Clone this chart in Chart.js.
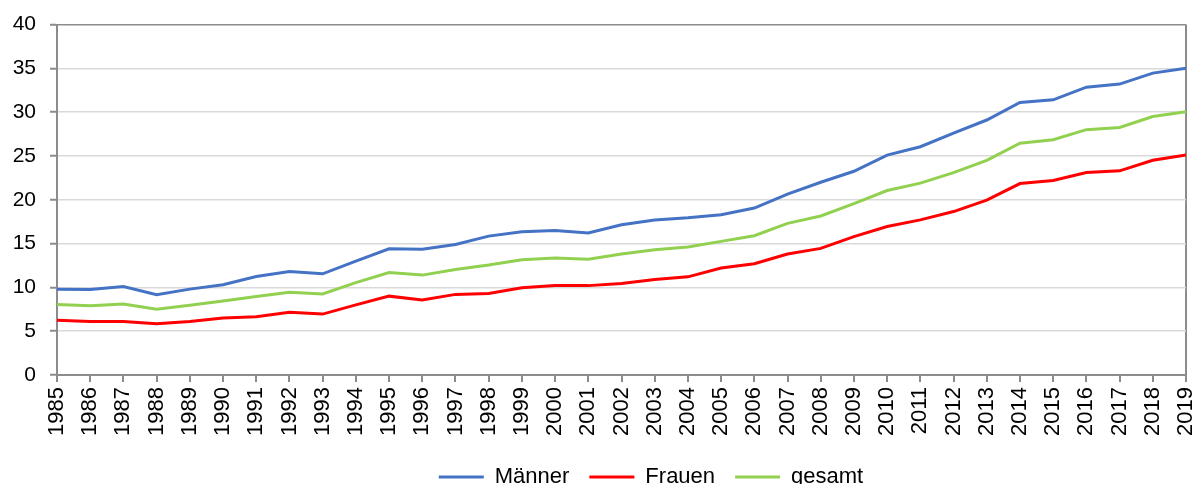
<!DOCTYPE html>
<html>
<head>
<meta charset="utf-8">
<title>Männer, Frauen, gesamt 1985-2019</title>
<script src="https://cdn.jsdelivr.net/npm/chart.js@4.4.1/dist/chart.umd.min.js"></script>
<style>
  html, body { margin: 0; padding: 0; background: #fff; overflow: hidden; }
  #wrap { width: 1196px; height: 498px; }
</style>
</head>
<body>
<div id="wrap"><canvas id="myChart" width="1196" height="498"></canvas></div>
<script>
const years = ['1985','1986','1987','1988','1989','1990','1991','1992','1993','1994',
  '1995','1996','1997','1998','1999','2000','2001','2002','2003','2004',
  '2005','2006','2007','2008','2009','2010','2011','2012','2013','2014',
  '2015','2016','2017','2018','2019'];

const maenner = [9.8, 9.75, 10.1, 9.15, 9.8, 10.3, 11.25, 11.8, 11.55, 13.0,
  14.4, 14.35, 14.9, 15.85, 16.35, 16.5, 16.2, 17.15, 17.7, 17.95,
  18.3, 19.05, 20.65, 22.0, 23.25, 25.1, 26.05, 27.6, 29.1, 31.1,
  31.4, 32.85, 33.2, 34.45, 35.0];

const frauen = [6.25, 6.1, 6.1, 5.85, 6.1, 6.5, 6.65, 7.15, 6.95, 8.0,
  9.0, 8.55, 9.2, 9.3, 9.95, 10.2, 10.2, 10.45, 10.9, 11.2,
  12.2, 12.7, 13.8, 14.45, 15.8, 16.95, 17.7, 18.65, 19.95, 21.85,
  22.2, 23.1, 23.3, 24.5, 25.1];

const gesamt = [8.05, 7.9, 8.1, 7.5, 7.95, 8.45, 8.95, 9.45, 9.25, 10.55,
  11.7, 11.4, 12.05, 12.55, 13.15, 13.35, 13.2, 13.8, 14.3, 14.6,
  15.25, 15.9, 17.3, 18.15, 19.55, 21.05, 21.9, 23.1, 24.5, 26.45,
  26.85, 28.0, 28.25, 29.5, 30.05];

const yMin = 0, yMax = 40, yStep = 5;

const CANVAS_H = 498;
const AREA_BOTTOM = 375;
const AXIS_GRAY = '#8c8c8c';

Chart.defaults.font.family = '"Liberation Sans", Arial, sans-serif';
Chart.defaults.color = '#000';

// legend sits a bit right of centre in the original
const legendShift = {
  id: 'legendShift',
  afterLayout(chart) {
    chart.legend.left += 58;
    chart.legend.right += 58;
  }
};

const ctx = document.getElementById('myChart').getContext('2d');
const myChart = new Chart(ctx, {
  type: 'line',
  data: {
    labels: years,
    datasets: [
      { label: 'Männer', data: maenner, borderColor: '#4472c4', backgroundColor: '#4472c4' },
      { label: 'Frauen', data: frauen, borderColor: '#ff0000', backgroundColor: '#ff0000' },
      { label: 'gesamt', data: gesamt, borderColor: '#92d050', backgroundColor: '#92d050' }
    ]
  },
  options: {
    responsive: false,
    animation: false,
    events: [],
    elements: {
      line: { borderWidth: 3, tension: 0, fill: false },
      point: { radius: 0, borderWidth: 3 }   // borderWidth used by the legend line
    },
    layout: { padding: { top: 20, right: 10, left: 0, bottom: 0 } },
    plugins: {
      tooltip: { enabled: false },
      legend: {
        position: 'bottom',
        labels: {
          usePointStyle: true,
          pointStyle: 'line',
          pointStyleWidth: 45,
          padding: 20,
          color: '#000',
          font: { size: 22 }
        }
      }
    },
    scales: {
      x: {
        offset: false,
        grid: {
          color: c => c.index === years.length - 1 ? AXIS_GRAY : 'rgba(0,0,0,0)',
          lineWidth: 2,
          tickLength: 7,
          tickColor: AXIS_GRAY,
          tickWidth: 2
        },
        border: { color: AXIS_GRAY, width: 2 },
        ticks: {
          autoSkip: false,
          minRotation: 90,
          maxRotation: 90,
          padding: 5,
          color: '#000',
          font: { size: 22, lineHeight: 1 }
        },
        afterFit(scale) {
          scale.height = CANVAS_H - AREA_BOTTOM - scale.chart.legend.height;
          scale.paddingLeft = 0;
          scale.paddingRight = 10;
        }
      },
      y: {
        min: yMin,
        max: yMax,
        grid: {
          color: c => c.tick.value === yMax ? AXIS_GRAY : '#d9d9d9',
          lineWidth: 1.5,
          tickLength: 7,
          tickColor: AXIS_GRAY,
          tickWidth: 2
        },
        border: { color: AXIS_GRAY, width: 2 },
        ticks: {
          stepSize: yStep,
          padding: 14,
          color: '#000',
          font: { size: 21, lineHeight: 1 }
        },
        afterFit(scale) {
          scale.width = 57;
        }
      }
    }
  },
  plugins: [legendShift]
});
</script>
</body>
</html>
